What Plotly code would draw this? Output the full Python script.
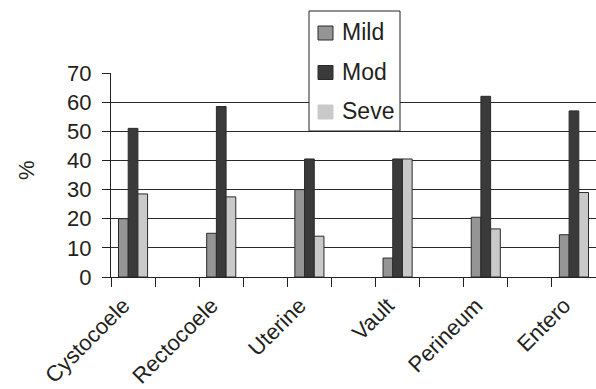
import plotly.graph_objects as go

# Prolapse sites (each gets its own slot, with an empty slot between groups)
sites = ["Cystocoele", "Rectocoele", "Uterine", "Vault", "Perineum", "Entero"]
site_pos = [0, 2, 4, 6, 8, 10]

# Percentage of cases by severity grade
mild = [20, 15, 30, 6.5, 20.5, 14.5]
moderate = [51, 58.5, 40.5, 40.5, 62, 57]
severe = [28.5, 27.5, 14, 40.5, 16.5, 29]

series_names = ["Mild", "Mod", "Seve"]
series_colors = ["#959595", "#3a3a3a", "#c9c9c9"]

y_ticks = [0, 10, 20, 30, 40, 50, 60, 70]

FONT = "Liberation Sans, Arial, sans-serif"
TXT = "#231f20"

# plot-area geometry in pixels (used to place the boxed key in paper units)
W, H = 596, 389
L, R, T, B = 111, 0, 73, 112
PW, PH = W - L - R, H - T - B


def px_x(p):
    return (p - L) / PW


def px_y(p):
    return (H - B - p) / PH


fig = go.Figure()
for name, vals, col in zip(series_names, [mild, moderate, severe], series_colors):
    fig.add_trace(go.Bar(
        x=site_pos, y=vals, name=name, showlegend=False,
        marker=dict(color=col, line=dict(color="#2a2a2a", width=1)),
    ))

# boxed key above the plot
shapes = [dict(
    type="rect", xref="paper", yref="paper", layer="above",
    x0=px_x(309), x1=px_x(400), y0=px_y(131), y1=px_y(11),
    fillcolor="white", line=dict(color="#222", width=1),
)]
annotations = []
key_rows = [33, 72.5, 112]
for name, col, cy in zip(series_names, series_colors, key_rows):
    edge = "#2a2a2a" if name != "Seve" else col
    shapes.append(dict(
        type="rect", xref="paper", yref="paper", layer="above",
        x0=px_x(318), x1=px_x(333), y0=px_y(cy + 7), y1=px_y(cy - 7),
        fillcolor=col, line=dict(color=edge, width=1),
    ))
    annotations.append(dict(
        text=name, xref="paper", yref="paper", x=px_x(340), y=px_y(cy - 1),
        xanchor="left", yanchor="middle", showarrow=False,
        font=dict(family=FONT, size=23, color=TXT),
    ))

# y-axis title
annotations.append(dict(
    text="%", xref="paper", yref="paper", x=px_x(26), y=px_y(170),
    xanchor="center", yanchor="middle", textangle=-90, showarrow=False,
    font=dict(family=FONT, size=22, color=TXT),
))

# slanted category labels sit a little left of their group centre
label_pos = [p - 0.22 for p in site_pos]

fig.update_layout(
    width=W, height=H,
    margin=dict(l=L, r=R, t=T, b=B),
    paper_bgcolor="white", plot_bgcolor="white",
    barmode="group", bargap=0.67, bargroupgap=0,
    font=dict(family=FONT, size=22, color=TXT),
    showlegend=False,
    shapes=shapes,
    annotations=annotations,
    xaxis=dict(
        range=[-0.5, 10.5],
        tickmode="array", tickvals=label_pos, ticktext=sites,
        tickangle=-45, ticks="", showgrid=False,
        ticklabelstandoff=6,
        showline=True, linecolor="#222", linewidth=1,
        tickfont=dict(family=FONT, size=22, color=TXT),
        minor=dict(
            tickmode="array",
            tickvals=[p - 0.5 for p in range(12)],
            ticks="outside", ticklen=9, tickcolor="#222", tickwidth=1,
            showgrid=False,
        ),
    ),
    yaxis=dict(
        range=[0, 70], tickmode="array", tickvals=y_ticks,
        ticks="outside", ticklen=8, tickcolor="#222",
        ticklabelstandoff=6,
        showgrid=True, gridcolor="#2a2a2a", gridwidth=1,
        showline=True, linecolor="#222", linewidth=1,
        zeroline=False,
        tickfont=dict(family=FONT, size=22, color=TXT),
    ),
)

fig.write_html("out.html")
